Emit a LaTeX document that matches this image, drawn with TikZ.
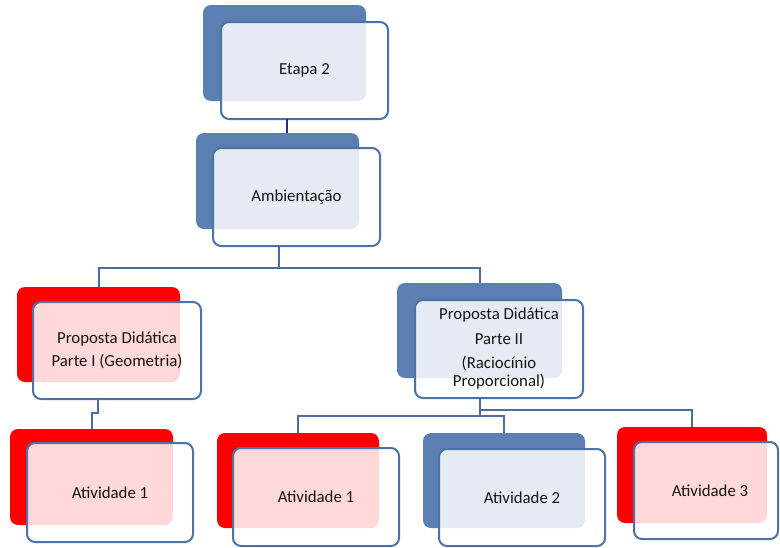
\documentclass[tikz,border=0pt]{standalone}
\usepackage{fontspec}
\setmainfont{Carlito}
\begin{document}
\begin{tikzpicture}[x=1pt,y=-1pt,
  every node/.style={inner sep=0pt, outer sep=0pt},
  backbox/.style={rounded corners=8pt, draw=none},
  blueback/.style={backbox, fill=bkblue},
  redback/.style={backbox, fill=bkred},
  frontbox/.style={rounded corners=8pt, draw=edgeblue, line width=2pt, fill=white, fill opacity=0.85, text opacity=1, text=txt, align=center, font=\fontsize{16.8}{23}\selectfont},
  conn/.style={draw=lineblue, line width=2pt},
  topconn/.style={draw=navy, line width=2pt}
]
\definecolor{bkblue}{RGB}{91,127,176}
\definecolor{bkred}{RGB}{255,0,0}
\definecolor{edgeblue}{RGB}{76,115,166}
\definecolor{lineblue}{RGB}{74,111,158}
\definecolor{navy}{RGB}{40,44,150}
\definecolor{txt}{RGB}{20,20,20}
\useasboundingbox (0,0) rectangle (780,547);

% Etapa 2
\node[blueback, minimum width=163pt, minimum height=96pt] (etb) at (284.5,53) {};
\node[frontbox, minimum width=167pt, minimum height=97pt] (etf) at (304.5,70.5) {Etapa 2};
% Ambientacao
\node[blueback, minimum width=163pt, minimum height=96pt] (amb) at (277.5,181) {};
\node[frontbox, minimum width=167pt, minimum height=98pt] (amf) at (296.5,197) {Ambientação};
% Proposta I
\node[redback, minimum width=163pt, minimum height=95pt] (p1b) at (98.5,334.5) {};
\node[frontbox, minimum width=168pt, minimum height=97pt] (p1f) at (117,350.5) {Proposta Didática\\Parte I (Geometria)};
% Proposta II
\node[blueback, minimum width=165pt, minimum height=95pt] (p2b) at (479.5,330.5) {};
\node[frontbox, minimum width=168pt, minimum height=98pt] (p2f) at (499,349) {Proposta Didática\\[2pt]Parte II\\[1pt](Raciocínio\\[-5pt]Proporcional)};
% Atividades
\node[redback, minimum width=163pt, minimum height=96pt] (a1ab) at (91.5,477) {};
\node[frontbox, minimum width=166pt, minimum height=99pt] (a1af) at (110,492.5) {Atividade 1};
\node[redback, minimum width=162pt, minimum height=95pt] (a1bb) at (298,480.5) {};
\node[frontbox, minimum width=166pt, minimum height=98pt] (a1bf) at (316,497) {Atividade 1};
\node[blueback, minimum width=162pt, minimum height=95pt] (a2b) at (504,480.5) {};
\node[frontbox, minimum width=166pt, minimum height=97pt] (a2f) at (522,497.5) {Atividade 2};
\node[redback, minimum width=150pt, minimum height=96pt] (a3b) at (692,475) {};
\node[frontbox, minimum width=144pt, minimum height=97pt] (a3f) at (706,490.5) {\hspace*{8pt}Atividade 3};

% connectors
\coordinate (c1) at (287,0);
\draw[topconn] (etf.south -| c1) -- (amb.north -| c1);
\coordinate (j1) at (279,268);
\draw[conn] (amf.south -| j1) -- (j1) -| (p1b.north);
\draw[conn] (j1) -| (p2b.north);
\coordinate (j2) at (98,413);
\draw[conn] (p1f.south -| j2) -- (j2) -| (a1ab.north);
\coordinate (j3) at (479.5,410);
\coordinate (j4) at (479.5,416);
\draw[conn] (p2f.south -| j3) -- (j4);
\draw[conn] (j3) -| (a3b.north);
\draw[conn] (j4) -| (a1bb.north);
\draw[conn] (j4) -| (a2b.north);
\end{tikzpicture}
\end{document}
